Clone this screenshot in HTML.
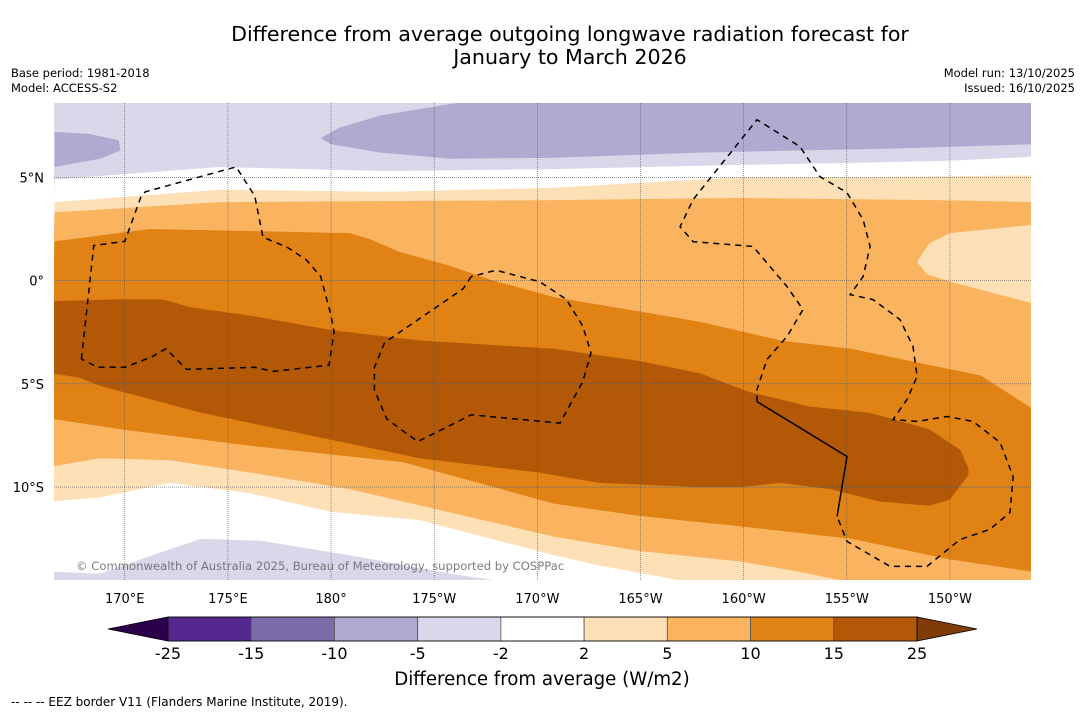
<!DOCTYPE html>
<html><head><meta charset="utf-8">
<style>
body{margin:0;background:#fff;}
svg text{font-family:"DejaVu Sans","Liberation Sans",sans-serif;}
</style></head>
<body>
<svg id="chart" width="1085" height="713" viewBox="0 0 1085 713" xmlns="http://www.w3.org/2000/svg">
<rect width="1085" height="713" fill="#fff"/>
<text x="570" y="41" font-size="20.6" text-anchor="middle" fill="#000">Difference from average outgoing longwave radiation forecast for</text>
<text x="570" y="64" font-size="20.6" text-anchor="middle" fill="#000">January to March 2026</text>
<text x="11" y="77" font-size="11.5">Base period: 1981-2018</text>
<text x="11" y="92" font-size="11.5">Model: ACCESS-S2</text>
<text x="1075" y="77" font-size="11.5" text-anchor="end">Model run: 13/10/2025</text>
<text x="1075" y="92" font-size="11.5" text-anchor="end">Issued: 16/10/2025</text>
<defs><clipPath id="mapclip"><rect x="54" y="103" width="977" height="477"/></clipPath></defs>
<g id="map" clip-path="url(#mapclip)"></g>
<g id="axes"></g>
<g id="cbar"></g>
<text x="542" y="685" font-size="18.2" text-anchor="middle">Difference from average (W/m2)</text>
<text x="11" y="706" font-size="12">--  --  -- EEZ border V11 (Flanders Marine Institute, 2019).</text>
</svg>
<script>
// axis domain
const lonMin = 166.57, lonMax = 213.93, latMax = 8.6, latMin = -14.5;
// contour band boundaries [lon(deg E), lat]
const purpleBlobLeft = [[166.6,7.2],[168.3,7.1],[169.7,6.8],[169.8,6.3],[168.8,5.9],[166.6,5.5]];
const purpleTop = [[186.7,8.7],[214,8.7],[214,6.6],[207.6,6.4],[197.9,6.2],[190.8,5.95],[185.8,5.9],[182.4,6.2],[180,6.6],[179.5,6.9],[180.4,7.4],[182.4,8.0]];
const whiteTopEdge = [[166.6,4.9],[174.6,5.5],[182.7,5.3],[190.8,5.4],[199.8,5.6],[205.2,5.7],[210.0,5.8],[214,6.0]];
const lightOrangeTopEdge = [[166.6,3.8],[174.6,4.4],[182.7,4.3],[190.8,4.5],[199.8,5.0],[205.2,5.0],[214,5.1]];
const orangeTopEdge = [[166.6,3.3],[174.6,3.8],[190.8,3.9],[199.8,4.0],[209.5,3.9],[214,3.8]];
const darkOrangeTopEdge = [[166.6,1.9],[171.2,2.5],[180.9,2.3],[181.9,2.0],[183.3,1.4],[185.8,0.7],[187.7,0.05],[190.8,-0.8],[195.0,-1.5],[197.9,-2.0],[201.8,-2.9],[205.2,-3.3],[208.6,-4.0],[211.5,-4.6],[214,-6.2]];
const rightBlob = [[214,2.7],[210.0,2.3],[209.0,1.8],[208.4,0.9],[208.9,0.3],[210.0,-0.05],[214,-1.1]];
const brownTop = [[166.5,-1.0],[169.8,-0.9],[171.7,-0.9],[172.2,-1.0],[173.2,-1.3],[176.1,-1.7],[180,-2.4],[184.3,-2.9],[190.8,-3.3],[195.0,-3.9],[197.9,-4.5],[200.3,-5.4],[203.2,-6.1],[206.1,-6.4],[209.0,-7.2],[210.5,-8.2],[210.9,-9.1]];
const brownBottom = [[210.9,-9.4],[210.0,-10.6],[209.0,-10.9],[206.6,-10.7],[204.2,-10.1],[201.8,-9.8],[199.8,-10.0],[197.9,-10.0],[193.0,-9.8],[190.1,-9.3],[184.3,-8.6],[178.5,-7.4],[173.7,-6.4],[168.8,-5.1],[167.8,-4.7],[166.5,-4.5]];
const darkOrangeBottomEdge = [[166.5,-6.7],[169.8,-7.2],[176.1,-8.0],[183.5,-8.8],[190.8,-10.8],[195.0,-11.4],[199.8,-11.9],[205.2,-12.5],[210.0,-13.5],[214,-14.1]];
const orangeBottomEdge = [[166.5,-9.0],[168.8,-8.6],[172.2,-8.7],[176.1,-9.3],[180.9,-10.1],[190.8,-12.4],[195.0,-13.1],[199.8,-13.6],[202.7,-14.1],[205.6,-14.7]];
const lightOrangeBottomEdge = [[166.5,-10.7],[168.8,-10.5],[172.2,-9.8],[176.1,-10.3],[180,-11.2],[184.3,-11.6],[190.8,-13.3],[193.0,-13.8],[197.9,-14.7]];
const lavenderBottomEdge = [[166.5,-14.1],[168.8,-14.2],[172.2,-13.0],[173.7,-12.5],[176.6,-12.6],[180.9,-13.3],[185.8,-14.2],[189.2,-14.7]];
// EEZ borders
const eezWest = [[167.9,-3.8],[168.5,1.7],[170.0,1.9],[170.8,4.1],[171.0,4.3],[175.0,5.4],[175.4,5.5],[176.3,4.1],[176.7,2.1],[177.9,1.6],[178.8,1.0],[179.5,0.2],[180,-1.7],[180.15,-2.5],[179.9,-4.1],[177.2,-4.4],[176.3,-4.2],[173.0,-4.3],[172.0,-3.3],[171.3,-3.7],[170.0,-4.2],[168.7,-4.2],[167.9,-3.8]];
const eezMid = [[186.8,0.2],[186.4,-0.4],[182.6,-3.0],[182.1,-4.2],[182.1,-5.3],[182.7,-6.7],[184.2,-7.8],[186.8,-6.5],[188.9,-6.7],[191.1,-6.9],[192.2,-4.9],[192.6,-3.5],[192.2,-2.2],[191.4,-0.9],[190.1,-0.05],[188.0,0.5],[186.8,0.2]];
const eezEast = [[200.65,-5.86],[200.65,-5.28],[201.13,-3.82],[202.1,-2.71],[202.88,-1.4],[202.1,-0.29],[200.46,1.65],[197.55,1.89],[196.92,2.61],[197.55,3.92],[200.65,7.79],[202.73,6.49],[203.7,5.03],[205.01,4.26],[205.79,2.95],[206.13,1.65],[205.79,0.19],[205.16,-0.68],[206.27,-0.92],[207.58,-1.89],[208.21,-3.19],[208.41,-4.65],[207.92,-5.76],[207.24,-6.73],[208.41,-6.82],[209.86,-6.58],[211.12,-6.82],[212.43,-7.84],[213.06,-9.49],[212.91,-11.23],[211.94,-12.05],[210.49,-12.54],[208.89,-13.84],[207.1,-13.84],[205.01,-12.63],[204.53,-11.42]];
const eezSolid = [[204.53,-11.42],[205.01,-8.52],[200.65,-5.86]];
// ticks
const lonTicks = [170,175,180,185,190,195,200,205,210];
const lonTickLabels = ["170°E","175°E","180°","175°W","170°W","165°W","160°W","155°W","150°W"];
const latTicks = [5,0,-5,-10];
const latTickLabels = ["5°N","0°","5°S","10°S"];
// colorbar
const cbLevels = [-25,-15,-10,-5,-2,2,5,10,15,25];
const cbColors = ["#54278f","#7b6ba9","#b1a9d0","#d8d8ea","#ffffff","#fde0b6","#fab460","#e08214","#b35806"];
const cbUnder = "#2d004b", cbOver = "#7f3b08";

const NS="http://www.w3.org/2000/svg";
const X0=54,X1=1031,Y0=103,Y1=580;
function xs(lon){return X0+(lon-lonMin)/(lonMax-lonMin)*(X1-X0);}
function ys(lat){return Y0+(latMax-lat)/(latMax-latMin)*(Y1-Y0);}
function pts(a){return a.map(p=>xs(p[0]).toFixed(1)+","+ys(p[1]).toFixed(1)).join(" ");}
function mk(tag,parent){const e=document.createElementNS(NS,tag);parent.appendChild(e);return e;}
const map=document.getElementById("map");
function poly(a,fill,name){const p=mk("polygon",map);p.setAttribute("points",pts(a));p.setAttribute("fill",fill);

return p;}
function down(edge){return edge.concat([[214,-15],[166,-15]]);}
const bg=mk("rect",map);bg.setAttribute("x",X0);bg.setAttribute("y",Y0);bg.setAttribute("width",X1-X0);bg.setAttribute("height",Y1-Y0);bg.setAttribute("fill","#d8d8ea");


poly(purpleBlobLeft,"#b1a9d0","band-purple-west");
poly(purpleTop,"#b1a9d0","band-purple-north");
poly(down(whiteTopEdge),"#ffffff","band-white-north");
poly(down(lightOrangeTopEdge),"#fde0b6","band-light-orange-north");
poly(down(orangeTopEdge),"#fab460","band-orange-north");
poly(down(darkOrangeTopEdge),"#e08214","band-dark-orange");
poly(rightBlob,"#fde0b6","band-light-orange-east");
poly(brownTop.concat(brownBottom),"#b35806","band-brown-core");
poly(down(darkOrangeBottomEdge),"#fab460","band-orange-south");
poly(down(orangeBottomEdge),"#fde0b6","band-light-orange-south");
poly(down(lightOrangeBottomEdge),"#ffffff","band-white-south");
poly(down(lavenderBottomEdge),"#d8d8ea","band-lavender-south");
// grid
const axes=document.getElementById("axes");
lonTicks.forEach((lon,i)=>{
 const l=mk("line",axes);l.setAttribute("x1",xs(lon));l.setAttribute("x2",xs(lon));l.setAttribute("y1",Y0);l.setAttribute("y2",Y1);
 l.setAttribute("stroke","#555");l.setAttribute("stroke-width","0.6");l.setAttribute("stroke-dasharray","1,1");
 
 
 const t=mk("text",axes);t.setAttribute("x",xs(lon));t.setAttribute("y",603);t.setAttribute("font-size","13");t.setAttribute("text-anchor","middle");t.textContent=lonTickLabels[i];
 
 
});
latTicks.forEach((lat,i)=>{
 const l=mk("line",axes);l.setAttribute("x1",X0);l.setAttribute("x2",X1);l.setAttribute("y1",ys(lat));l.setAttribute("y2",ys(lat));
 l.setAttribute("stroke","#555");l.setAttribute("stroke-width","0.6");l.setAttribute("stroke-dasharray","1,1");
 
 
 const t=mk("text",axes);t.setAttribute("x",44);t.setAttribute("y",ys(lat)+5);t.setAttribute("font-size","13");t.setAttribute("text-anchor","end");t.textContent=latTickLabels[i];
 
 
});
function eez(a,dash,name){const p=mk("polyline",axes);p.setAttribute("points",pts(a));p.setAttribute("fill","none");p.setAttribute("stroke","#000");p.setAttribute("stroke-width","1.5");if(dash)p.setAttribute("stroke-dasharray","6,5");

}
eez(eezWest,true,"eez-border-west");
eez(eezMid,true,"eez-border-central");
eez(eezEast,true,"eez-border-east");
eez(eezSolid,false,"eez-border-east-solid");
const cr=mk("text",axes);cr.setAttribute("x",76);cr.setAttribute("y",570);cr.setAttribute("font-size","11.6");cr.setAttribute("fill","#666");cr.setAttribute("fill-opacity","0.85");
cr.textContent="© Commonwealth of Australia 2025, Bureau of Meteorology, supported by COSPPac";


// colorbar
const cb=document.getElementById("cbar");
const CX0=168,CX1=917,CY0=617,CY1=641,segW=(CX1-CX0)/cbColors.length;
const under=mk("polygon",cb);under.setAttribute("points",`${CX0},${CY0} ${CX0},${CY1} 108,${(CY0+CY1)/2}`);under.setAttribute("fill",cbUnder);under.setAttribute("stroke","#000");under.setAttribute("stroke-width","0.8");


const over=mk("polygon",cb);over.setAttribute("points",`${CX1},${CY0} ${CX1},${CY1} 977,${(CY0+CY1)/2}`);over.setAttribute("fill",cbOver);over.setAttribute("stroke","#000");over.setAttribute("stroke-width","0.8");


cbColors.forEach((c,i)=>{
 const r=mk("rect",cb);r.setAttribute("x",CX0+i*segW);r.setAttribute("y",CY0);r.setAttribute("width",segW);r.setAttribute("height",CY1-CY0);r.setAttribute("fill",c);r.setAttribute("stroke","#555");r.setAttribute("stroke-width","0.8");
 
 
});
const fr=mk("rect",cb);fr.setAttribute("x",CX0);fr.setAttribute("y",CY0);fr.setAttribute("width",CX1-CX0);fr.setAttribute("height",CY1-CY0);fr.setAttribute("fill","none");fr.setAttribute("stroke","#000");fr.setAttribute("stroke-width","0.8");


cbLevels.forEach((v,i)=>{
 const t=mk("text",cb);t.setAttribute("x",CX0+i*segW);t.setAttribute("y",659);t.setAttribute("font-size","16");t.setAttribute("text-anchor","middle");t.textContent=String(v);
 
 
});
</script>
</body></html>
